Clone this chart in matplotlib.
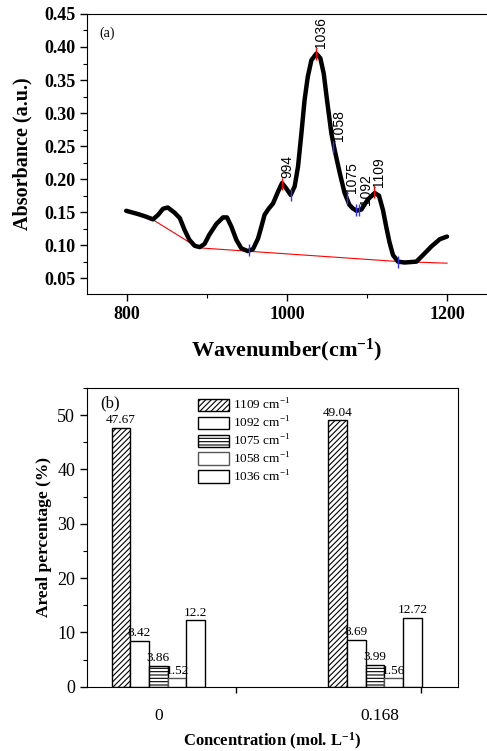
import matplotlib
matplotlib.use("Agg")
import matplotlib.pyplot as plt
import numpy as np
from matplotlib.ticker import MultipleLocator

plt.rcParams["font.family"] = ["Liberation Serif", "DejaVu Serif"]
plt.rcParams["mathtext.fontset"] = "custom"
plt.rcParams["mathtext.rm"] = "Liberation Serif"
plt.rcParams["mathtext.bf"] = "Liberation Serif:bold"
plt.rcParams["hatch.linewidth"] = 0.8

# FTIR spectrum (a)
wavenumber = [799, 814, 824, 832.5, 839, 845, 851, 859.6, 866, 872, 878, 884.6, 891,
              897, 903, 911.7, 920, 925, 930.5, 936.7, 943, 951, 957.5, 963.8, 968,
              972, 977, 982.5, 988.8, 993.8, 999, 1004.6, 1009.6, 1013.8, 1018, 1022,
              1026, 1030.5, 1036.7, 1041.7, 1045.9, 1050, 1055.5, 1059.6, 1066, 1072,
              1078, 1082, 1086.7, 1093, 1101, 1109.6, 1115, 1120, 1124, 1128, 1132.5,
              1138.8, 1147, 1161.7, 1170, 1180.5, 1191, 1200]
absorbance = [0.152, 0.147, 0.143, 0.139, 0.146, 0.155, 0.157, 0.149, 0.141, 0.123,
              0.108, 0.099, 0.097, 0.102, 0.116, 0.132, 0.142, 0.142, 0.128, 0.108,
              0.095, 0.091, 0.094, 0.110, 0.128, 0.146, 0.155, 0.163, 0.181, 0.194,
              0.186, 0.176, 0.189, 0.219, 0.269, 0.320, 0.355, 0.380, 0.390, 0.383,
              0.360, 0.320, 0.269, 0.244, 0.209, 0.179, 0.161, 0.156, 0.152, 0.154,
              0.169, 0.179, 0.175, 0.153, 0.128, 0.105, 0.085, 0.075, 0.0737, 0.075,
              0.085, 0.098, 0.109, 0.113]

baseline_x = [800, 833, 889, 1139, 1200]
baseline_y = [0.152, 0.138, 0.096, 0.0752, 0.0727]

peak_pos = [994, 1036, 1109]
peak_abs = [0.193, 0.390, 0.180]
valley_pos = [953, 1005, 1058, 1075, 1086, 1090, 1139]
valley_abs = [0.092, 0.176, 0.249, 0.171, 0.153, 0.153, 0.074]

band_labels = ["994", "1036", "1058", "1075", "1092", "1109"]
band_pos = [994, 1036, 1058, 1075, 1092, 1109]
band_abs = [0.193, 0.390, 0.249, 0.171, 0.153, 0.180]

# Band areal percentages (b)
concentrations = ["0", "0.168"]
bands = ["1109", "1092", "1075", "1058", "1036"]
area_0 = [47.67, 8.42, 3.86, 1.52, 12.2]
area_0168 = [49.04, 8.69, 3.99, 1.56, 12.72]
value_text_0 = ["47.67", "8.42", "3.86", "1.52", "12.2"]
value_text_0168 = ["49.04", "8.69", "3.99", "1.56", "12.72"]

fig = plt.figure(figsize=(4.87, 7.51), dpi=100)

# ---- panel (a) ----
ax1 = fig.add_axes([0.1786, 0.6085, 0.8214, 0.3729])
ax1.plot(wavenumber, absorbance, color="black", lw=3.2, solid_capstyle="round",
         solid_joinstyle="round", zorder=3)
ax1.plot(baseline_x, baseline_y, color="red", lw=0.8, zorder=2)
ax1.plot(peak_pos, peak_abs, ls="none", marker="|", ms=9, mew=1.0, color="red", zorder=4)
ax1.plot(valley_pos, valley_abs, ls="none", marker="|", ms=9, mew=1.0, color="#3030ff", zorder=4)
for lab, xp, yp in zip(band_labels, band_pos, band_abs):
    ax1.text(xp + 6.5, yp + 0.008, lab, rotation=90, ha="center", va="bottom",
             fontsize=10, family=["Liberation Sans", "DejaVu Sans"])

ax1.set_xlim(750, 1250)
ax1.set_ylim(0.026, 0.45)
ax1.set_xticks([800, 1000, 1200])
ax1.xaxis.set_minor_locator(MultipleLocator(100))
ax1.yaxis.set_minor_locator(MultipleLocator(0.025))
ax1.set_yticks(np.arange(0.05, 0.451, 0.05))
ax1.set_yticklabels([f"{v:.2f}" for v in np.arange(0.05, 0.451, 0.05)])
ax1.tick_params(which="major", direction="out", length=5, width=1, labelsize=13)
ax1.tick_params(which="minor", direction="out", length=3, width=0.8)
for lbl in ax1.get_xticklabels() + ax1.get_yticklabels():
    lbl.set_fontweight("bold")
ax1.spines["right"].set_visible(False)
ax1.text(0.03, 0.955, "(a)", transform=ax1.transAxes, fontsize=10, va="top", ha="left")
ax1.set_ylabel("Absorbance (a.u.)", fontsize=14.5, fontweight="bold", labelpad=8)
ax1.set_xlabel(r"Wavenumber$\mathbf{(cm^{-1})}$", fontsize=16, fontweight="bold", labelpad=10)

# ---- panel (b) ----
ax2 = fig.add_axes([0.1786, 0.0856, 0.762, 0.3978])
width = 0.0862
group_x = np.array([0.0, 1.0])
hatches = ["//////", None, "-----", None, None]
edges = ["black", "black", "black", "#555555", "black"]
for i, band in enumerate(bands):
    vals = [area_0[i], area_0168[i]]
    xs = group_x + (i - 2) * width
    ax2.bar(xs, vals, width=width, color="white", edgecolor=edges[i], hatch=hatches[i],
            lw=1.0, label=band + r" cm$^{\mathrm{-1}}$", zorder=2)
    for x, v, t in zip(xs, vals, [value_text_0[i], value_text_0168[i]]):
        ax2.text(x, v + 0.3, t, ha="center", va="bottom", fontsize=9.5, zorder=3)

ax2.set_xlim(-0.329, 1.383)
ax2.set_ylim(0, 55)
ax2.yaxis.set_major_locator(MultipleLocator(10))
ax2.yaxis.set_minor_locator(MultipleLocator(5))
ax2.set_xticks([0.357, 1.211])
ax2.set_xticklabels([])
ax2.set_xticks([0.0, 1.02], minor=True)
ax2.set_xticklabels(concentrations, minor=True)
ax2.tick_params(axis="x", which="minor", length=0, labelsize=12.5, pad=15)
ax2.tick_params(axis="x", which="major", direction="out", length=4, width=1)
ax2.tick_params(axis="y", which="major", direction="out", length=5, width=1, labelsize=13)
ax2.tick_params(axis="y", which="minor", direction="out", length=3, width=0.8)
ax2.text(0.035, 0.975, "(b)", transform=ax2.transAxes, fontsize=12, va="top", ha="left")
ax2.set_ylabel("Areal percentage (%)", fontsize=12.5, fontweight="bold", labelpad=4)
ax2.set_xlabel(r"Concentration (mol. L$\mathbf{^{-1}}$)", fontsize=12, fontweight="bold", labelpad=5)
ax2.legend(loc="upper left", bbox_to_anchor=(0.275, 1.0), frameon=False, fontsize=9.5,
           handlelength=2.3, handleheight=1.1, labelspacing=0.2, handletextpad=0.3,
           borderpad=0.2)

fig.savefig("out.png", dpi=100)
